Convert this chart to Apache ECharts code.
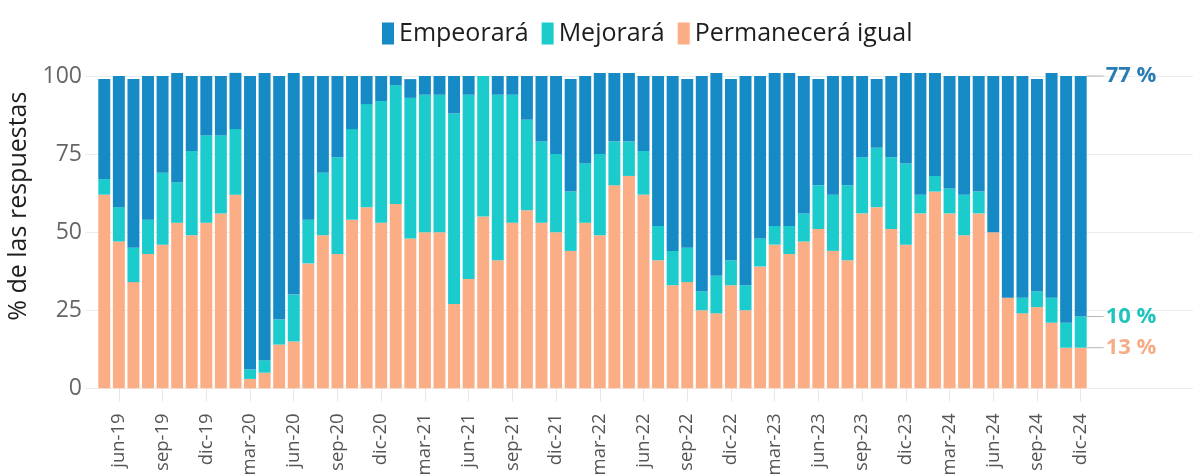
<!DOCTYPE html>
<html>
<head>
<meta charset="utf-8">
<script src="https://cdn.jsdelivr.net/npm/echarts@6/dist/echarts.min.js"></script>
<style>
html,body{margin:0;padding:0;background:#fff;}
#chart{width:1193px;height:474px;}
</style>
</head>
<body>
<div id="chart"></div>
<script>
const categories = [
  'may-19','jun-19','jul-19','ago-19','sep-19','oct-19','nov-19','dic-19',
  'ene-20','feb-20','mar-20','abr-20','may-20','jun-20','jul-20','ago-20','sep-20','oct-20','nov-20','dic-20',
  'ene-21','feb-21','mar-21','abr-21','may-21','jun-21','jul-21','ago-21','sep-21','oct-21','nov-21','dic-21',
  'ene-22','feb-22','mar-22','abr-22','may-22','jun-22','jul-22','ago-22','sep-22','oct-22','nov-22','dic-22',
  'ene-23','feb-23','mar-23','abr-23','may-23','jun-23','jul-23','ago-23','sep-23','oct-23','nov-23','dic-23',
  'ene-24','feb-24','mar-24','abr-24','may-24','jun-24','jul-24','ago-24','sep-24','oct-24','nov-24','dic-24'
];
const permanecera = [
  62,47,34,43,46,53,49,53,
  56,62,3,5,14,15,40,49,43,54,58,53,
  59,48,50,50,27,35,55,41,53,57,53,50,
  44,53,49,65,68,62,41,33,34,25,24,33,
  25,39,46,43,47,51,44,41,56,58,51,46,
  56,63,56,49,56,50,29,24,26,21,13,13
];
const mejorara = [
  5,11,11,11,23,13,27,28,
  25,21,3,4,8,15,14,20,31,29,33,39,
  38,45,44,44,61,59,45,53,41,29,26,25,
  19,19,26,14,11,14,11,11,11,6,12,8,
  8,9,6,9,9,14,18,24,18,19,23,26,
  6,5,8,13,7,0,0,5,5,8,8,10
];
const empeorara = [
  32,42,54,46,31,35,24,19,
  19,18,94,92,78,71,46,31,26,17,9,8,
  3,6,6,6,12,6,0,6,6,14,21,25,
  36,28,26,22,22,24,48,56,54,69,65,58,
  67,52,49,49,44,34,38,35,26,22,26,29,
  39,33,36,38,37,50,71,71,68,72,79,77
];
const yTicks = [0, 25, 50, 75, 100];

const colors = {
  emp: '#168ac4',
  mej: '#1ccbcb',
  perm: '#fbad86'
};
const labelColors = {
  emp: '#2a7db3',
  mej: '#1fc4bc',
  perm: '#f5ad88'
};
const FONT = '"Open Sans", "Noto Sans", sans-serif';
const last = categories.length - 1;

function withEndLabel(arr, color) {
  return arr.map((v, i) => i === last ? {
    value: v,
    label: {
      show: true,
      position: ['100%', 0],
      align: 'left',
      verticalAlign: 'middle',
      formatter: '{ln| }{t|' + v + ' %}',
      rich: {
        ln: { width: 17, height: 1, backgroundColor: '#b5b5b5' },
        t: { fontSize: 22, fontWeight: 'bold', color: color, fontFamily: FONT, padding: [0, 0, 0, 2] }
      }
    }
  } : v);
}

const tickFn = (i) => i % 3 === 1;

const chart = echarts.init(document.getElementById('chart'), null, { renderer: 'canvas' });
chart.setOption({
  animation: false,
  backgroundColor: '#ffffff',
  legend: {
    data: ['Empeorará', 'Mejorará', 'Permanecerá igual'],
    left: 377,
    top: 16,
    icon: 'rect',
    itemWidth: 12,
    itemHeight: 22,
    itemGap: 13,
    textStyle: { fontSize: 25, color: '#1e1e1e', fontFamily: FONT }
  },
  grid: [
    { left: 97, right: 105, top: 76, bottom: 85.7, outerBoundsMode: 'none', containLabel: false },
    { left: 85, right: 0, top: 76, bottom: 85.7, outerBoundsMode: 'none', containLabel: false }
  ],
  xAxis: [
    {
      type: 'category',
      gridIndex: 0,
      data: categories,
      axisLine: { show: false },
      axisTick: { show: true, interval: tickFn, alignWithLabel: true, length: 13, lineStyle: { color: '#e8e8e8' } },
      axisLabel: { interval: tickFn, rotate: 90, margin: 25, fontSize: 18.5, color: '#555', fontFamily: FONT }
    },
    { type: 'value', gridIndex: 1, show: false, min: 0, max: 1 }
  ],
  yAxis: [
    { type: 'value', gridIndex: 0, min: 0, max: 100, interval: 25, show: false },
    {
      type: 'value', gridIndex: 1, min: yTicks[0], max: yTicks[yTicks.length - 1], interval: 25,
      name: '% de las respuestas',
      nameLocation: 'middle',
      nameGap: 46,
      nameTextStyle: { fontSize: 25, color: '#1e1e1e', fontFamily: FONT, padding: [0, 0, 0, 52] },
      axisLine: { show: false },
      axisTick: { show: false },
      axisLabel: { margin: 3, fontSize: 23, color: '#666', fontFamily: FONT },
      splitLine: { lineStyle: { color: '#ececec', width: 1 } }
    }
  ],
  series: [
    {
      name: 'Permanecerá igual', type: 'bar', stack: 'a', xAxisIndex: 0, yAxisIndex: 0,
      barCategoryGap: '18%', clip: false,
      itemStyle: { color: colors.perm },
      data: withEndLabel(permanecera, labelColors.perm)
    },
    {
      name: 'Mejorará', type: 'bar', stack: 'a', xAxisIndex: 0, yAxisIndex: 0,
      barCategoryGap: '18%', clip: false,
      itemStyle: { color: colors.mej },
      data: withEndLabel(mejorara, labelColors.mej)
    },
    {
      name: 'Empeorará', type: 'bar', stack: 'a', xAxisIndex: 0, yAxisIndex: 0,
      barCategoryGap: '18%', clip: false,
      itemStyle: { color: colors.emp },
      data: withEndLabel(empeorara, labelColors.emp)
    }
  ]
});
</script>
</body>
</html>
